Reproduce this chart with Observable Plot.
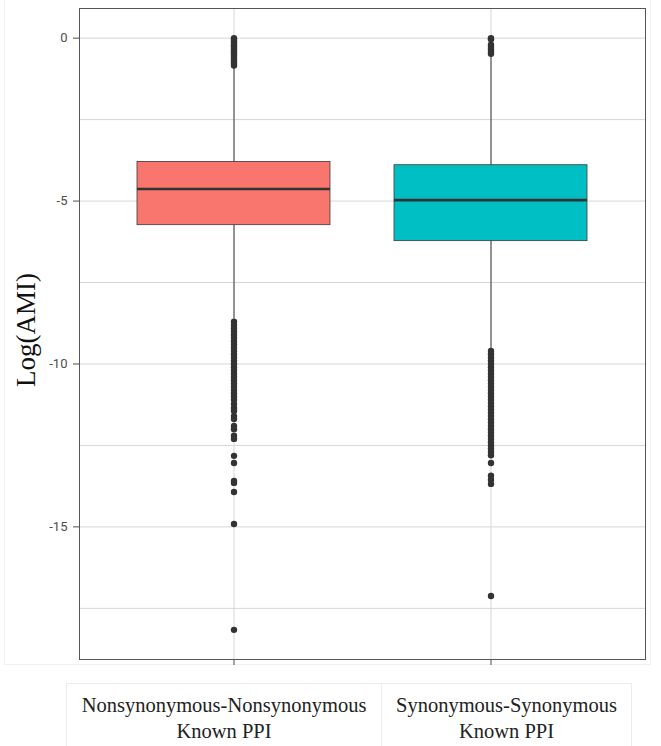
<!DOCTYPE html>
<html>
<head>
<meta charset="utf-8">
<script src="https://cdn.jsdelivr.net/npm/d3@7"></script>
<script src="https://cdn.jsdelivr.net/npm/@observablehq/plot@0.6"></script>
<style>
  body { margin: 0; background: #fff; }
  #wrap { position: relative; width: 661px; height: 746px; overflow: hidden; }
  #frameBg { position: absolute; left: 4px; top: -2px; width: 647px; height: 667px; border: 1px solid #f0f0f0; box-sizing: border-box; }
  #chart { position: absolute; left: 0; top: 0; }
  #ylab { position: absolute; left: 26px; top: 330px; transform: translate(-50%, -50%) rotate(-90deg);
          font-family: "Liberation Serif", "Times New Roman", serif; font-size: 27px; color: #111; white-space: nowrap; }
  #cap { position: absolute; left: 66px; top: 683px; display: flex; border: 1px solid #ececec; border-bottom: none; }
  .cell { font-family: "Liberation Serif", "Times New Roman", serif; font-size: 20.5px; line-height: 26px; color: #222;
          text-align: center; padding-top: 8px; height: 70px; box-sizing: border-box; }
  .cell + .cell { border-left: 1px solid #ececec; }
</style>
</head>
<body>
<div id="wrap">
  <div id="frameBg"></div>
  <div id="chart"></div>
  <div id="ylab">Log(AMI)</div>
  <div id="cap"></div>
</div>
<script>
// ---- data ----
const categories = ["Nonsynonymous-Nonsynonymous Known PPI", "Synonymous-Synonymous Known PPI"];
const captionLines = [["Nonsynonymous-Nonsynonymous", "Known PPI"], ["Synonymous-Synonymous", "Known PPI"]];
const fills = ["#F8766D", "#00BFC4"];
const q1 = [-5.74, -6.23];
const median = [-4.63, -4.97];
const q3 = [-3.80, -3.90];
const whiskerLow = [-8.62, -9.52];
const whiskerHigh = [-0.9, -0.55];
const outliersNN = [0, -0.05, -0.1, -0.15, -0.2, -0.25, -0.3, -0.35, -0.4, -0.45, -0.5, -0.55, -0.6, -0.66, -0.72, -0.78, -0.84,
  -8.7, -8.8, -8.9, -9.0, -9.1, -9.2, -9.3, -9.4, -9.5, -9.6, -9.7, -9.8, -9.9, -10.0, -10.1, -10.2, -10.3, -10.4, -10.5,
  -10.6, -10.7, -10.8, -10.9, -11.0, -11.1, -11.23, -11.35, -11.44, -11.6, -11.69, -11.9, -12.0, -12.2, -12.3,
  -12.82, -13.04, -13.59, -13.65, -13.93, -14.91, -18.16];
const outliersSS = [0, -0.03, -0.2, -0.27, -0.34, -0.42, -0.48,
  -9.6, -9.7, -9.8, -9.9, -10.0, -10.1, -10.2, -10.3, -10.4, -10.5, -10.6, -10.7, -10.8, -10.9, -11.0, -11.1, -11.2,
  -11.3, -11.4, -11.5, -11.6, -11.7, -11.8, -11.9, -12.0, -12.1, -12.2, -12.3, -12.4, -12.5, -12.6, -12.7, -12.8,
  -13.04, -13.43, -13.55, -13.68, -17.12];
const yTicks = [0, -5, -10, -15];
const yMinorGrid = [-2.5, -7.5, -12.5, -17.5];
const yDomain = [-19.07, 0.91];

// ---- build tables ----
const boxes = categories.map((c, i) => ({category: c, q1: q1[i], median: median[i], q3: q3[i], lo: whiskerLow[i], hi: whiskerHigh[i], fill: fills[i]}));
const outliers = [
  ...outliersNN.map(v => ({category: categories[0], value: v})),
  ...outliersSS.map(v => ({category: categories[1], value: v}))
];

const gridColor = "#d6d6d6";
const plot = Plot.plot({
  width: 661,
  height: 668,
  marginTop: 8,
  marginBottom: 9,
  marginLeft: 79,
  marginRight: 16,
  style: {background: "transparent", fontFamily: "Roboto, sans-serif"},
  x: {type: "band", domain: categories, paddingInner: 0.25, paddingOuter: 0.225, axis: null},
  y: {domain: yDomain, axis: null},
  color: {type: "identity"},
  marks: [
    Plot.gridY(yMinorGrid, {stroke: gridColor, strokeOpacity: 1}),
    Plot.gridY(yTicks, {stroke: gridColor, strokeOpacity: 1}),
    Plot.gridX(categories, {stroke: gridColor, strokeOpacity: 1}),
    Plot.axisY(yTicks, {tickSize: 6, tickPadding: 6, fontSize: 13, color: "#4d4d4d", label: null, tickFormat: d => String(d)}),
    Plot.axisX(categories, {tickSize: 6, tickFormat: () => "", label: null, color: "#4d4d4d"}),
    Plot.ruleX(boxes, {x: "category", y1: "lo", y2: "hi", stroke: "#3a3a3a", strokeWidth: 1}),
    Plot.barY(boxes, {x: "category", y1: "q1", y2: "q3", fill: "fill", stroke: "#3a3a3a", strokeWidth: 0.8}),
    Plot.tickY(boxes, {x: "category", y: "median", stroke: "#333", strokeWidth: 2.6}),
    Plot.dot(outliers, {x: "category", y: "value", r: 3.2, fill: "#333", stroke: "none"}),
    Plot.frame({stroke: "#555", strokeWidth: 1})
  ]
});
document.getElementById("chart").appendChild(plot);

// caption cells below the chart
const cap = document.getElementById("cap");
const widths = [314, 250];
captionLines.forEach((lines, i) => {
  const d = document.createElement("div");
  d.className = "cell";
  d.style.width = widths[i] + "px";
  lines.forEach((t, j) => {
    if (j) d.appendChild(document.createElement("br"));
    d.appendChild(document.createTextNode(t));
  });
  cap.appendChild(d);
});
</script>
</body>
</html>
